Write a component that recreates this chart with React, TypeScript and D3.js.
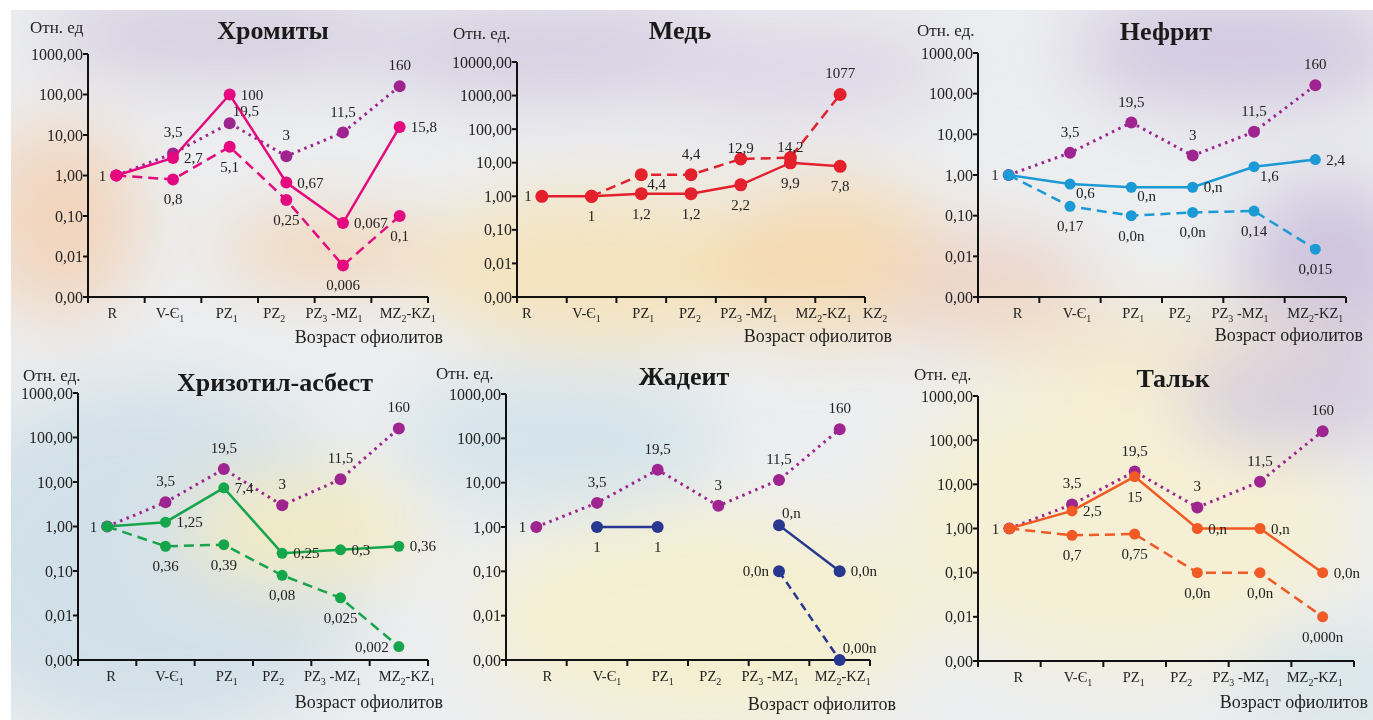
import React from 'react';
import * as d3 from 'd3';

// возрастные интервалы (_ = нижний индекс)
const ages = ['R', 'V-Є_1', 'PZ_1', 'PZ_2', 'PZ_3 -MZ_1', 'MZ_2-KZ_1'];
const agesCopper = ['R', 'V-Є_1', 'PZ_1', 'PZ_2', 'PZ_3 -MZ_1', 'MZ_2-KZ_1', 'KZ_2'];

// офиолиты (фиолетовый пунктир, общий для пяти графиков)
const ophValues = [1, 3.5, 19.5, 3, 11.5, 160];
const ophLabels = ['', '3,5', '19,5', '3', '11,5', '160'];
const ophLabelsJadeite = ['1', '3,5', '19,5', '3', '11,5', '160'];

const chromSolid = [1, 2.7, 100, 0.67, 0.067, 15.8];
const chromSolidLabels = ['1', '2,7', '100', '0,67', '0,067', '15,8'];
const chromDashed = [1, 0.8, 5.1, 0.25, 0.006, 0.1];
const chromDashedLabels = ['', '0,8', '5,1', '0,25', '0,006', '0,1'];

const copperSolid = [1, 1, 1.2, 1.2, 2.2, 9.9, 7.8];
const copperSolidLabels = ['1', '1', '1,2', '1,2', '2,2', '9,9', '7,8'];
const copperDashed = [null, 1, 4.4, 4.4, 12.9, 14.2, 1077];
const copperDashedLabels = ['', '', '4,4', '4,4', '12,9', '14,2', '1077'];

const nephSolid = [1, 0.6, 0.5, 0.5, 1.6, 2.4];
const nephSolidLabels = ['1', '0,6', '0,n', '0,n', '1,6', '2,4'];
const nephDashed = [1, 0.17, 0.1, 0.12, 0.13, 0.015];
const nephDashedLabels = ['', '0,17', '0,0n', '0,0n', '0,14', '0,015'];

const chrysSolid = [1, 1.25, 7.4, 0.25, 0.3, 0.36];
const chrysSolidLabels = ['1', '1,25', '7,4', '0,25', '0,3', '0,36'];
const chrysDashed = [1, 0.36, 0.39, 0.08, 0.025, 0.002];
const chrysDashedLabels = ['', '0,36', '0,39', '0,08', '0,025', '0,002'];

const jadeSolid = [null, 1, 1, null, 1.1, 0.1];
const jadeSolidLabels = ['', '1', '1', '', '0,n', '0,0n'];
const jadeDashed = [null, null, null, null, 0.1, 0.001];
const jadeDashedLabels = ['', '', '', '', '0,0n', '0,00n'];

const talcSolid = [1, 2.5, 15, 1, 1, 0.1];
const talcSolidLabels = ['1', '2,5', '15', '0,n', '0,n', '0,0n'];
const talcDashed = [1, 0.7, 0.75, 0.1, 0.1, 0.01];
const talcDashedLabels = ['', '0,7', '0,75', '0,0n', '0,0n', '0,000n'];

const FONT = '"Liberation Serif", "Times New Roman", serif';
const PURPLE = '#9e2590';

// смещения подписей значений
const offsets: Record<string, [number, number, string]> = {
  a: [0, -16, 'middle'],
  b: [0, 25, 'middle'],
  r: [11, 5, 'start'],
  l: [-10, 5, 'end'],
  ar: [3, -7, 'start'],
  br: [6, 14, 'start'],
  an: [0, -6, 'middle'],
};

const Cat = ({ text, x, y }) => {
  const parts = text.split(/(_\d)/).filter(p => p !== '');
  return (
    <text x={x} y={y} textAnchor="middle" fontSize={14.5} fontFamily={FONT} fill="#222">
      {parts.map((p, i) =>
        p.startsWith('_') ? (
          <tspan key={i} dy={4} fontSize={10}>{p.slice(1)}</tspan>
        ) : (
          <tspan key={i} dy={i > 0 && parts[i - 1].startsWith('_') ? -4 : 0}>{p}</tspan>
        )
      )}
    </text>
  );
};

const Panel = ({ cfg }) => {
  const { axisX, xEnd, yTop, yBottom, top, cats, series, title, unit, axisTitle, catShift } = cfg;
  const x = d3.scaleBand().domain(cats).range([axisX, xEnd]);
  const y = d3.scaleLog().domain([0.001, top]).range([yBottom, yTop]);
  const ticks = d3.range(-3, Math.log10(top) + 1).map(e => Math.pow(10, e));
  const fmt = d3.format('.2f');
  const cx = (i) => x(cats[i]) + x.bandwidth() / 2;

  return (
    <g>
      <text x={unit[0]} y={unit[1]} fontSize={17} fontFamily={FONT} fill="#222">{unit[2]}</text>
      <text x={title[0]} y={title[1]} textAnchor="middle" fontSize={26} fontWeight="bold" fontFamily={FONT} fill="#1a1a1a">{title[2]}</text>
      {ticks.map(t => (
        <g key={t}>
          <line x1={axisX - 5} x2={axisX} y1={y(t)} y2={y(t)} stroke="#111" strokeWidth={2} />
          <text x={axisX - 5} y={y(t)} dy="0.35em" textAnchor="end" fontSize={16} fontFamily={FONT} fill="#222">
            {fmt(t).replace('.', ',')}
          </text>
        </g>
      ))}
      <line x1={axisX} x2={axisX} y1={yTop} y2={yBottom + 1} stroke="#111" strokeWidth={2} />
      <line x1={axisX - 1} x2={xEnd} y1={yBottom} y2={yBottom} stroke="#111" strokeWidth={2} />
      {[...cats.map(c => x(c)), xEnd].map((v, i) => (
        <line key={i} x1={v} x2={v} y1={yBottom} y2={yBottom + 6} stroke="#111" strokeWidth={2} />
      ))}
      {cats.map((c, i) => (
        <Cat key={c} text={c} x={cx(i) + catShift[i]} y={yBottom + 21} />
      ))}
      <text x={axisTitle[0]} y={axisTitle[1]} textAnchor="end" fontSize={18} fontFamily={FONT} fill="#222">
        Возраст офиолитов
      </text>
      {series.map((s, si) => {
        const line = d3.line<number | null>()
          .defined(d => d != null)
          .x((d, i) => cx(i))
          .y(d => y(d as number));
        return (
          <g key={si}>
            <path d={line(s.values) || ''} fill="none" stroke={s.color} strokeWidth={s.width}
              strokeDasharray={s.dash} />
            {s.values.map((v, i) => v == null ? null : (
              <circle key={i} cx={cx(i)} cy={y(v)} r={s.r} fill={s.color} />
            ))}
            {s.labels.map((l, i) => {
              if (!l || s.values[i] == null) return null;
              const [dx, dy, anchor] = offsets[s.pos[i]];
              return (
                <text key={'l' + i} x={cx(i) + dx} y={y(s.values[i]) + dy} textAnchor={anchor}
                  fontSize={15} fontFamily={FONT} fill="#222">{l}</text>
              );
            })}
          </g>
        );
      })}
    </g>
  );
};

const oph = (labels, pos) => ({
  values: ophValues, labels, pos, color: PURPLE, width: 3, dash: '2.5 4.5', r: 6,
});
const AAAA = ['', 'a', 'a', 'a', 'a', 'a'];

const panels = [
  {
    axisX: 88, xEnd: 428, yTop: 54, yBottom: 297, top: 1000, cats: ages, catShift: [-4, -3, -3, -12, -9, 8],
    title: [273, 39, 'Хромиты'], unit: [30, 33, 'Отн. ед'], axisTitle: [443, 343],
    series: [
      oph(ophLabels, ['', 'a', 'ar', 'a', 'a', 'a']),
      { values: chromDashed, labels: chromDashedLabels, pos: ['', 'b', 'b', 'b', 'b', 'b'], color: '#e5097f', width: 2.5, dash: '10 6', r: 6 },
      { values: chromSolid, labels: chromSolidLabels, pos: ['l', 'r', 'r', 'r', 'r', 'r'], color: '#e5097f', width: 2.5, dash: null, r: 6 },
    ],
  },
  {
    axisX: 517, xEnd: 865, yTop: 62, yBottom: 297, top: 10000, cats: agesCopper, catShift: [-15, -5, 2, -1, 8, 33, 35],
    title: [680, 39, 'Медь'], unit: [453, 39, 'Отн. ед.'], axisTitle: [892, 342],
    series: [
      { values: copperDashed, labels: copperDashedLabels, pos: ['', '', 'br', 'a', 'an', 'an', 'a'], color: '#e3202b', width: 2.5, dash: '10 6', r: 6.5 },
      { values: copperSolid, labels: copperSolidLabels, pos: ['l', 'b', 'b', 'b', 'b', 'b', 'b'], color: '#e3202b', width: 2.5, dash: null, r: 6.5 },
    ],
  },
  {
    axisX: 978, xEnd: 1346, yTop: 53, yBottom: 297, top: 1000, cats: ages, catShift: [9, 7, 2, -13, -14, 0],
    title: [1166, 40, 'Нефрит'], unit: [917, 36, 'Отн. ед.'], axisTitle: [1363, 341],
    series: [
      oph(ophLabels, AAAA),
      { values: nephDashed, labels: nephDashedLabels, pos: ['', 'b', 'b', 'b', 'b', 'b'], color: '#1b9ad6', width: 2.5, dash: '10 6', r: 5.5 },
      { values: nephSolid, labels: nephSolidLabels, pos: ['l', 'br', 'br', 'r', 'br', 'r'], color: '#1b9ad6', width: 2.5, dash: null, r: 5.5 },
    ],
  },
  {
    axisX: 78, xEnd: 428, yTop: 393, yBottom: 660, top: 1000, cats: ages, catShift: [4, 4, 3, -9, -8, 8],
    title: [275, 391, 'Хризотил-асбест'], unit: [23, 381, 'Отн. ед.'], axisTitle: [443, 708],
    series: [
      oph(ophLabels, AAAA),
      { values: chrysDashed, labels: chrysDashedLabels, pos: ['', 'b', 'b', 'b', 'b', 'l'], color: '#15a54b', width: 2.5, dash: '10 6', r: 5.5 },
      { values: chrysSolid, labels: chrysSolidLabels, pos: ['l', 'r', 'r', 'r', 'r', 'r'], color: '#15a54b', width: 2.5, dash: null, r: 5.5 },
    ],
  },
  {
    axisX: 506, xEnd: 870, yTop: 394, yBottom: 660, top: 1000, cats: ages, catShift: [11, 10, 5, -8, -9, 3],
    title: [684, 385, 'Жадеит'], unit: [436, 379, 'Отн. ед.'], axisTitle: [896, 710],
    series: [
      oph(ophLabelsJadeite, ['l', 'a', 'a', 'a', 'a', 'a']),
      { values: jadeDashed, labels: jadeDashedLabels, pos: ['', '', '', '', 'l', 'ar'], color: '#283891', width: 2.5, dash: '8 5', r: 6 },
      { values: jadeSolid, labels: jadeSolidLabels, pos: ['', 'b', 'b', '', 'ar', 'r'], color: '#283891', width: 2.5, dash: null, r: 6 },
    ],
  },
  {
    axisX: 978, xEnd: 1354, yTop: 396, yBottom: 661, top: 1000, cats: ages, catShift: [9, 6, -1, -16, -19, -8],
    title: [1173, 387, 'Тальк'], unit: [914, 380, 'Отн. ед.'], axisTitle: [1368, 708],
    series: [
      oph(ophLabels, AAAA),
      { values: talcDashed, labels: talcDashedLabels, pos: ['', 'b', 'b', 'b', 'b', 'b'], color: '#f15a24', width: 2.5, dash: '10 6', r: 5.5 },
      { values: talcSolid, labels: talcSolidLabels, pos: ['l', 'r', 'b', 'r', 'r', 'r'], color: '#f15a24', width: 2.5, dash: null, r: 5.5 },
    ],
  },
];

// акварельный фон
const blobs = [
  { cx: 220, cy: 35, rx: 180, ry: 40, c: '#cfc6dc' },
  { cx: 560, cy: 50, rx: 200, ry: 50, c: '#d3cbe0' },
  { cx: 800, cy: 70, rx: 160, ry: 50, c: '#dcd5e6' },
  { cx: 1240, cy: 50, rx: 170, ry: 60, c: '#cfc5de' },
  { cx: 1330, cy: 270, rx: 90, ry: 90, c: '#cbc0dc' },
  { cx: 60, cy: 220, rx: 80, ry: 100, c: '#f2d3b8' },
  { cx: 330, cy: 250, rx: 110, ry: 30, c: '#f4cda6' },
  { cx: 600, cy: 270, rx: 180, ry: 80, c: '#f5e2b8' },
  { cx: 830, cy: 260, rx: 120, ry: 80, c: '#f5d8ad' },
  { cx: 990, cy: 290, rx: 100, ry: 60, c: '#ecd2c6' },
  { cx: 1150, cy: 340, rx: 200, ry: 30, c: '#f3e4c6' },
  { cx: 150, cy: 560, rx: 220, ry: 180, c: '#cfdfe8' },
  { cx: 300, cy: 530, rx: 120, ry: 60, c: '#f5ebc0' },
  { cx: 560, cy: 440, rx: 160, ry: 70, c: '#d2e2ea' },
  { cx: 700, cy: 620, rx: 220, ry: 110, c: '#f6efcd' },
  { cx: 1120, cy: 520, rx: 230, ry: 150, c: '#f6efd2' },
  { cx: 1300, cy: 400, rx: 120, ry: 50, c: '#d3c9df' },
  { cx: 1340, cy: 680, rx: 100, ry: 50, c: '#d5e3ea' },
];

export default function App() {
  return (
    <svg width={1373} height={720} style={{ position: 'absolute', left: 0, top: 0 }}>
      <defs>
        <filter id="soft" x="-50%" y="-50%" width="200%" height="200%">
          <feGaussianBlur stdDeviation="35" />
        </filter>
        <clipPath id="bgclip">
          <rect x={11} y={10} width={1362} height={710} />
        </clipPath>
      </defs>
      <rect width={1373} height={720} fill="#fff" />
      <g clipPath="url(#bgclip)">
        <rect x={11} y={10} width={1362} height={710} fill="#eceef0" />
        <g filter="url(#soft)">
          {blobs.map((b, i) => (
            <ellipse key={i} cx={b.cx} cy={b.cy} rx={b.rx} ry={b.ry} fill={b.c} opacity={0.9} />
          ))}
        </g>
      </g>
      {panels.map((p, i) => <Panel key={i} cfg={p} />)}
    </svg>
  );
}
